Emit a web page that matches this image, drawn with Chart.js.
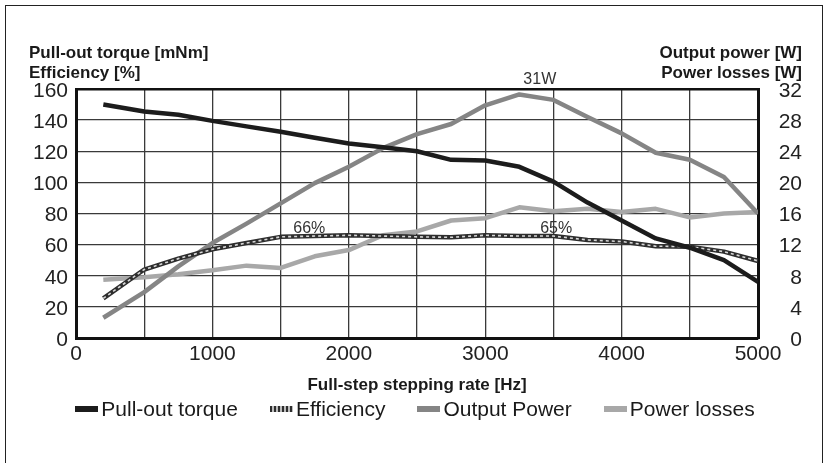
<!DOCTYPE html>
<html>
<head>
<meta charset="utf-8">
<script src="https://cdn.jsdelivr.net/npm/chart.js@4.4.1/dist/chart.umd.min.js"></script>
<style>
    html, body { margin: 0; padding: 0; background: #fff; }
    #wrap { position: relative; width: 830px; height: 463px; overflow: hidden; }
    #frame { position: absolute; left: 5px; top: 5px; width: 816px; height: 520px; border: 1.5px solid #222; }
    #chart { position: absolute; left: 0; top: 0; }
    #legend { position: absolute; left: 0; top: 396px; width: 830px; display: flex; justify-content: center;
              font: 21px "Liberation Sans", Arial, sans-serif; color: #1a1a1a; line-height: 25px; }
    #legend .item { display: flex; align-items: center; margin: 0 16px; }
    #legend .mark { width: 23px; height: 6px; margin-right: 3px; }
</style>
</head>
<body>
<div id="wrap">
    <div id="frame"></div>
    <canvas id="chart"></canvas>
    <div id="legend"></div>
</div>
<script>
const rates = [200, 500, 750, 1000, 1250, 1500, 1750, 2000, 2250, 2500, 2750, 3000, 3250, 3500, 3750, 4000, 4250, 4500, 4750, 5000];
const torque = [150, 145.5, 143.5, 139.5, 136, 132.5, 128.7, 125, 122.5, 120, 114.5, 114, 110, 100.5, 87, 75.5, 64, 58, 50, 36];
const efficiency = [25.5, 44, 51, 57, 61, 65, 65.5, 66, 65.5, 65, 64.7, 66, 65.5, 65.5, 63, 62, 59, 58.7, 55.5, 49.5];
const outputPower = [2.6, 5.9, 9.2, 12.2, 14.7, 17.3, 19.9, 22, 24.4, 26.2, 27.5, 29.9, 31.3, 30.6, 28.4, 26.3, 23.8, 22.9, 20.7, 16];
const powerLosses = [7.5, 7.8, 8.2, 8.7, 9.3, 9.0, 10.5, 11.3, 13.2, 13.7, 15.1, 15.4, 16.8, 16.3, 16.6, 16.2, 16.6, 15.5, 16.0, 16.2];

const leftTitles = ['Pull-out torque [mNm]', 'Efficiency [%]'];
const rightTitles = ['Output power [W]', 'Power losses [W]'];
const xTitle = 'Full-step stepping rate [Hz]';
// value labels: text, x in Hz, y in left-axis units
const notes = [
    { text: '31W', x: 3400, y: 166 },
    { text: '66%', x: 1710, y: 70 },
    { text: '65%', x: 3520, y: 70.5 }
];

const FONT = '"Liberation Sans", Arial, sans-serif';
const toPoints = (ys) => ys.map((y, i) => ({ x: rates[i], y: y }));

// titles above both y axes and the small value labels
const chartText = {
    id: 'chartText',
    afterDraw(chart) {
        const ctx = chart.ctx;
        ctx.save();
        ctx.fillStyle = '#1a1a1a';
        ctx.textBaseline = 'middle';
        ctx.font = 'bold 17px ' + FONT;
        ctx.textAlign = 'left';
        ctx.fillText(leftTitles[0], 29, 53);
        ctx.fillText(leftTitles[1], 29, 73);
        ctx.textAlign = 'right';
        ctx.fillText(rightTitles[0], 802, 53);
        ctx.fillText(rightTitles[1], 802, 73);

        ctx.font = '16px ' + FONT;
        ctx.fillStyle = '#333';
        ctx.textAlign = 'center';
        const xs = chart.scales.x, ys = chart.scales.y;
        notes.forEach(n => {
            ctx.fillText(n.text, xs.getPixelForValue(n.x), ys.getPixelForValue(n.y));
        });
        ctx.restore();
    }
};

const gridColor = '#3a3a3a';

const chart = new Chart(document.getElementById('chart'), {
    type: 'line',
    data: {
        datasets: [
            { label: 'Pull-out torque', data: toPoints(torque), yAxisID: 'y', order: 1,
              borderColor: '#1c1c1c', backgroundColor: '#1c1c1c', borderWidth: 4.5 },
            { label: 'Efficiency', data: toPoints(efficiency), yAxisID: 'y', order: 3,
              borderColor: '#2e2e2e', backgroundColor: '#2e2e2e', borderWidth: 4.5 },
            { label: '', data: toPoints(efficiency), yAxisID: 'y', order: 2,
              borderColor: '#d8d8d8', borderWidth: 1.6, borderDash: [3, 3] },
            { label: 'Output Power', data: toPoints(outputPower), yAxisID: 'y2', order: 4,
              borderColor: '#858585', backgroundColor: '#858585', borderWidth: 4.5 },
            { label: 'Power losses', data: toPoints(powerLosses), yAxisID: 'y2', order: 5,
              borderColor: '#a8a8a8', backgroundColor: '#a8a8a8', borderWidth: 4.5 }
        ]
    },
    options: {
        responsive: true,
        maintainAspectRatio: false,
        animation: false,
        layout: { padding: { left: 25, right: 28, top: 89, bottom: 63.4 } },
        elements: {
            point: { radius: 0, hoverRadius: 0 },
            line: { tension: 0, borderJoinStyle: 'round', borderCapStyle: 'butt' }
        },
        plugins: {
            legend: { display: false },
            tooltip: { enabled: false }
        },
        scales: {
            x: {
                type: 'linear', min: 0, max: 5000,
                ticks: {
                    stepSize: 500, autoSkip: false, maxRotation: 0, padding: 4,
                    color: '#222', font: { family: FONT, size: 21 },
                    callback: (v) => (v % 1000 === 0 ? v : '')
                },
                grid: { color: gridColor, lineWidth: 1.3, drawTicks: false },
                border: { color: '#111', width: 3 },
                title: { display: true, text: xTitle, color: '#1a1a1a',
                         font: { family: FONT, size: 17, weight: 'bold' }, padding: { top: 4, bottom: 4 } }
            },
            x2: {
                type: 'linear', position: 'top', min: 0, max: 5000,
                ticks: { display: false },
                grid: { display: false, drawTicks: false },
                border: { color: '#111', width: 2.5 }
            },
            y: {
                position: 'left', min: 0, max: 160,
                ticks: { stepSize: 20, padding: 8, labelOffset: 2, color: '#222', font: { family: FONT, size: 21 } },
                grid: { color: gridColor, lineWidth: 1.3, drawTicks: false },
                border: { color: '#111', width: 3 }
            },
            y2: {
                position: 'right', min: 0, max: 32,
                ticks: { stepSize: 4, padding: 10.3, crossAlign: 'far', labelOffset: 2, color: '#222', font: { family: FONT, size: 21 } },
                grid: { display: false, drawTicks: false },
                border: { color: '#111', width: 3 }
            }
        }
    },
    plugins: [chartText]
});

// legend built from the chart's own datasets
const legendBox = document.getElementById('legend');
chart.data.datasets.filter(d => d.label).forEach(d => {
    const item = document.createElement('div');
    item.className = 'item';
    const mark = document.createElement('span');
    mark.className = 'mark';
    mark.style.background = d.label === 'Efficiency'
        ? 'repeating-linear-gradient(90deg, #2e2e2e 0 2px, #bdbdbd 2px 4px)'
        : d.borderColor;
    const text = document.createElement('span');
    text.textContent = d.label;
    item.appendChild(mark);
    item.appendChild(text);
    legendBox.appendChild(item);
});
</script>
</body>
</html>
